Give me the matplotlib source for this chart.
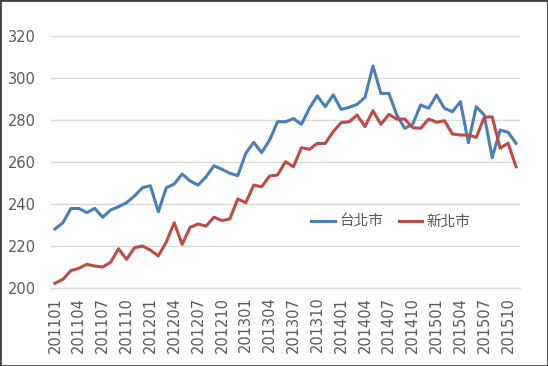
import matplotlib
matplotlib.use("Agg")
import matplotlib.pyplot as plt
from matplotlib.patches import Rectangle

months = [
    "201101", "201102", "201103", "201104", "201105", "201106", "201107", "201108", "201109", "201110", "201111", "201112",
    "201201", "201202", "201203", "201204", "201205", "201206", "201207", "201208", "201209", "201210", "201211", "201212",
    "201301", "201302", "201303", "201304", "201305", "201306", "201307", "201308", "201309", "201310", "201311", "201312",
    "201401", "201402", "201403", "201404", "201405", "201406", "201407", "201408", "201409", "201410", "201411", "201412",
    "201501", "201502", "201503", "201504", "201505", "201506", "201507", "201508", "201509", "201510", "201511",
]

taipei = [
    228.2, 231.2, 237.9, 238.0, 236.0, 238.0, 233.8, 237.2, 238.8, 240.7, 243.9, 247.8,
    248.8, 236.4, 247.8, 249.6, 254.4, 251.0, 249.1, 253.0, 258.3, 256.6, 254.7, 253.6,
    264.2, 269.4, 264.5, 270.5, 279.2, 279.2, 280.7, 278.0, 285.6, 291.5, 286.4, 292.0,
    285.1, 286.1, 287.5, 290.8, 305.7, 292.7, 292.7, 282.4, 276.1, 278.0, 287.2, 285.6,
    291.9, 285.6, 284.0, 288.8, 269.3, 286.4, 282.4, 262.1, 275.3, 274.2, 269.0,
]

new_taipei = [
    202.4, 204.3, 208.4, 209.5, 211.4, 210.6, 210.1, 212.4, 218.8, 213.8, 219.3, 220.1,
    218.2, 215.4, 222.0, 231.2, 220.9, 229.0, 230.6, 229.6, 233.8, 232.2, 233.0, 242.5,
    240.7, 249.1, 248.3, 253.4, 253.9, 260.2, 257.8, 266.9, 266.1, 268.9, 268.9, 274.5,
    278.8, 279.2, 282.4, 276.9, 284.5, 278.0, 282.7, 280.5, 280.5, 276.4, 276.1, 280.5,
    279.0, 279.7, 273.4, 272.9, 272.9, 271.8, 281.3, 281.6, 266.6, 269.0, 257.8,
]

series_names = ["台北市", "新北市"]
y_ticks = [200, 220, 240, 260, 280, 300, 320]

fig = plt.figure(figsize=(5.48, 3.66), dpi=100)
fig.patch.set_facecolor("white")
ax = fig.add_axes([51 / 548, 1 - 288.3 / 366, 469 / 548, 252.3 / 366])

x = list(range(len(months)))
ax.plot(x, taipei, color="#4a7ebb", lw=2.2, label=series_names[0], solid_joinstyle="round")
ax.plot(x, new_taipei, color="#be4b48", lw=2.2, label=series_names[1], solid_joinstyle="round")

ax.set_xlim(-0.5, len(months) - 0.5)
ax.set_ylim(200, 320)
ax.set_yticks(y_ticks)
ax.set_yticklabels([str(v) for v in y_ticks])
ax.set_xticks(x[::3])
ax.set_xticklabels(months[::3], rotation=90)

for s in ["top", "right", "left"]:
    ax.spines[s].set_visible(False)
ax.spines["bottom"].set_color("#d9d9d9")
ax.spines["bottom"].set_linewidth(1.0)
ax.grid(axis="y", color="#d9d9d9", lw=1.0)
ax.set_axisbelow(True)
ax.tick_params(axis="both", length=0, colors="#595959", labelsize=10.5)
ax.tick_params(axis="y", pad=11)
ax.tick_params(axis="x", pad=6)

leg = ax.legend(loc="center", bbox_to_anchor=(0.725, 0.263), ncol=2, frameon=False,
                prop={"family": ["Noto Sans CJK TC", "DejaVu Sans"], "size": 10.5},
                handlelength=1.6, handletextpad=0.3, columnspacing=1.1)
for t in leg.get_texts():
    t.set_color("#595959")

fig.patches.append(Rectangle((0, 0), 1, 1, transform=fig.transFigure, fill=False,
                             edgecolor="#404040", lw=2.0))

fig.savefig("out.png", dpi=100)
